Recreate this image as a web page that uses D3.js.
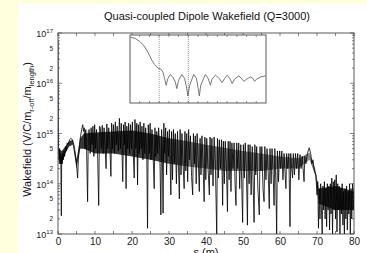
<!DOCTYPE html>
<html>
<head>
<meta charset="utf-8">
<script src="https://cdn.jsdelivr.net/npm/d3@7"></script>
<style>
  body { margin: 0; background: #ffffdd; }
  svg { display: block; font-family: "Liberation Sans", Arial, Helvetica, sans-serif; }
</style>
</head>
<body>
<svg id="chart" width="367" height="253"></svg>
<script>
(function(){

  // DATA ////////////////////////////////////////////////////////////////////

  var titleText = "Quasi-coupled Dipole Wakefield (Q=3000)";
  var xTicks = [0, 10, 20, 30, 40, 50, 60, 70, 80];
  var yDecades = [13, 14, 15, 16, 17];
  var yMidLabels = [2, 5];

  // wake [s (m), W], peaks and troughs in order
  var wakePts = [
    [0, 7e16], [0.08, 2e15], [0.15, 5e14], [0.3, 3e14], [0.45, 5e14], [0.6, 2.5e14], [0.75, 4e14],
    [0.9, 2.3e13], [1.0, 3.5e14], [1.15, 2.5e14], [1.3, 4e14], [1.45, 3e14], [1.6, 4.5e14], [1.8, 3.5e14],
    [2.0, 5.5e14], [2.2, 4.5e14], [2.5, 6.5e14], [2.8, 6e14], [3.1, 7.5e14], [3.5, 8e14], [3.9, 7.5e14],
    [4.3, 6e14], [4.7, 4e14], [5.0, 2.5e14], [5.3, 1.3e14], [5.5, 3e14], [5.8, 6e14], [6.1, 9e14],
    [6.4, 1.2e15], [6.7, 1.5e15], [6.9, 1.1e15], [7.1, 1.3e15], [7.3, 5e14], [7.5, 1.2e15], [7.7, 6e14],
    [8.0, 4.4e13], [8.2, 1.1e15], [8.45, 1.2e15], [8.7, 4e14], [8.95, 1.3e15], [9.2, 6e14], [9.45, 1.4e15],
    [9.7, 3.5e14], [9.9, 1.5e15], [10.15, 5e14], [10.4, 1.2e15], [10.7, 4e14], [11.0, 3.7e13], [11.2, 1.4e15],
    [11.45, 1.3e15], [11.7, 5e14], [11.95, 1.45e15], [12.2, 4e14], [12.45, 1.3e15], [12.75, 5e14], [13.0, 2e14],
    [13.2, 1.55e15], [13.45, 5e14], [13.7, 1.3e15], [14.0, 6e14], [14.3, 1.4e14], [14.5, 1.6e15], [14.75, 5e14],
    [15.0, 1.5e15], [15.25, 4e14], [15.5, 1.7e15], [15.75, 6e14], [16.0, 1.4e15], [16.3, 4.5e14], [16.6, 2e15],
    [16.85, 5e14], [17.1, 1.6e15], [17.5, 1.1e14], [17.7, 1.5e15], [17.95, 6e14], [18.15, 1.7e15], [18.4, 8e13],
    [18.6, 1.4e15], [18.85, 5e14], [19.1, 1.6e15], [19.35, 4e14], [19.6, 1.5e15], [19.85, 5e14], [20.1, 1.7e15],
    [20.35, 4e14], [20.6, 1.3e14], [20.8, 1.9e15], [21.05, 5e14], [21.3, 1.6e15], [21.5, 9.5e13], [21.7, 1.5e15],
    [21.95, 4e14], [22.2, 1.7e15], [22.45, 5e14], [22.7, 1.4e15], [22.95, 3e14], [23.2, 1.6e15], [23.45, 4e14],
    [23.7, 1.3e15], [24.0, 3.5e14], [24.2, 1.3e13], [24.4, 1.5e15], [24.65, 4e14], [24.9, 1.6e15], [25.15, 3e14],
    [25.4, 1.2e15], [25.7, 4e14], [26.0, 8e13], [26.2, 1.3e15], [26.45, 3.5e14], [26.7, 1.1e15], [26.95, 4e14],
    [27.2, 1.3e15], [27.5, 5e14], [27.8, 2.4e13], [28.0, 1.2e15], [28.2, 4e14], [28.4, 2.6e13], [28.6, 1.6e15],
    [28.85, 4e14], [29.1, 1.3e15], [29.35, 1.5e14], [29.6, 1.1e15], [29.85, 3.5e14], [30.1, 1.2e15], [30.5, 6e13],
    [30.7, 1.1e15], [30.95, 1.2e14], [31.2, 1.2e15], [31.45, 2.5e14], [31.7, 1e15], [32.0, 1e14], [32.3, 1.1e15],
    [32.55, 2.5e14], [32.8, 5e13], [33.0, 1.2e15], [33.25, 1.5e14], [33.5, 1e15], [33.8, 2.5e14], [34.1, 8e13],
    [34.3, 1.1e15], [34.55, 1.8e14], [34.8, 1e15], [35.05, 1.1e14], [35.3, 1.2e15], [35.55, 3e14], [35.8, 9e14],
    [36.1, 1.4e14], [36.4, 6e13], [36.6, 1e15], [36.85, 2.5e14], [37.1, 9e14], [37.35, 1e14], [37.6, 1e15],
    [37.9, 3e14], [38.2, 7e13], [38.4, 8e14], [38.65, 1.5e14], [38.9, 9e14], [39.2, 2.5e14], [39.5, 4.4e13],
    [39.7, 8.5e14], [39.95, 1.2e14], [40.2, 8e14], [40.5, 2.5e14], [40.9, 6e13], [41.1, 8.5e14], [41.35, 1.5e14],
    [41.6, 8e14], [41.9, 9e13], [42.2, 8.5e14], [42.5, 3e14], [42.9, 1e13], [43.1, 8e14], [43.35, 1.3e14],
    [43.6, 7.5e14], [43.9, 2e14], [44.2, 7.5e14], [44.5, 3.7e13], [44.7, 7e14], [44.95, 1e14], [45.2, 7e14],
    [45.5, 2.5e14], [45.8, 2.8e13], [46.0, 7e14], [46.25, 1.2e14], [46.5, 7e14], [46.75, 7e13], [47.0, 6.5e14],
    [47.3, 2e14], [47.6, 6.5e14], [47.85, 1e14], [48.1, 3.7e13], [48.3, 6.5e14], [48.6, 2e14], [48.85, 6.5e14],
    [49.1, 8e13], [49.4, 6e14], [49.9, 1.7e13], [50.1, 6e14], [50.35, 1.3e14], [50.6, 6.5e14], [50.9, 2e14],
    [51.2, 1.5e13], [51.4, 6e14], [51.65, 1e14], [51.9, 6e14], [52.2, 6e13], [52.5, 5.5e14], [53.0, 1.7e13],
    [53.2, 6e14], [53.45, 1.5e14], [53.7, 5.5e14], [54.0, 9e13], [54.4, 2.4e13], [54.6, 5.5e14], [54.85, 1.8e14],
    [55.1, 5.5e14], [55.4, 8e13], [55.7, 4.4e13], [55.9, 5.5e14], [56.2, 1.2e14], [56.5, 5e14], [56.8, 1.8e14],
    [57.1, 3.2e13], [57.3, 5e14], [57.6, 1e14], [57.85, 5e14], [58.1, 2e14], [58.4, 3.7e13], [58.6, 5e14],
    [58.85, 1.3e14], [59.1, 1e13], [59.3, 4.5e14], [59.6, 1.1e14], [59.9, 4.5e14], [60.2, 2e14], [60.5, 4.5e14],
    [60.8, 1.2e14], [61.1, 4e14], [61.6, 8e13], [61.8, 4e14], [62.1, 2e14], [62.4, 4e14], [62.7, 1.4e13],
    [62.9, 4e14], [63.15, 2e14], [63.4, 1.3e14], [63.6, 4e14], [63.9, 1.5e14], [64.2, 4e14], [64.5, 2e14],
    [64.8, 4e14], [65.1, 1.2e14], [65.4, 3.8e14], [65.7, 2e14], [66.0, 3.5e14], [66.5, 1.1e14], [66.7, 3.5e14],
    [67.0, 2.5e14], [67.4, 4e14], [67.9, 5.2e14], [68.3, 4e14], [68.6, 2.5e14], [68.9, 3e14], [69.3, 1.8e14],
    [69.7, 1.5e14], [70.0, 6e13], [70.2, 1.1e14], [70.4, 1.3e13], [70.6, 8e13], [70.8, 2e13], [71.0, 1e14],
    [71.2, 3e13], [71.4, 1e13], [71.6, 9e13], [71.8, 3e13], [72.0, 1.1e14], [72.2, 2e13], [72.4, 8e13],
    [72.6, 1.4e13], [72.8, 1e14], [73.0, 3e13], [73.2, 9e13], [73.4, 1.2e13], [73.6, 1e14], [73.8, 2.5e13],
    [74.0, 1.3e14], [74.2, 1e13], [74.4, 1.1e14], [74.6, 3e13], [74.8, 1.2e14], [75.0, 2e13], [75.2, 1.5e14],
    [75.4, 1.1e13], [75.6, 1e14], [75.8, 3e13], [76.0, 9e13], [76.2, 1e13], [76.4, 8e13], [76.6, 2.5e13],
    [76.8, 1e14], [77.0, 1.5e13], [77.2, 7e13], [77.4, 1e13], [77.6, 8e13], [77.8, 2e13], [78.0, 9e13],
    [78.2, 1.2e13], [78.4, 7e13], [78.6, 2.5e13], [78.8, 1e14], [79.0, 1e13], [79.2, 8e13], [79.4, 2e13],
    [79.6, 1e14], [79.8, 3e13], [80, 8e13]
  ];

  // dense band of fast oscillation (upper / lower edge)
  var bandS  = [0.2, 1, 2, 3, 4, 5, 6, 7, 10, 15, 20, 25, 30, 35, 40, 45, 50, 55, 60, 65, 68, 69.5, 70.5, 75, 80];
  var bandHi = [5e14, 4.5e14, 5.5e14, 7e14, 7.5e14, 3e14, 8e14, 1e15, 1.05e15, 1.1e15, 1.15e15, 1e15, 8e14,
                7e14, 6e14, 5.2e14, 4.5e14, 4e14, 3.5e14, 3.2e14, 4.2e14, 2e14, 8e13, 9e13, 7e13];
  var bandLo = [2.5e14, 2.5e14, 4e14, 5.5e14, 6e14, 2e14, 5e14, 5e14, 4e14, 4e14, 3.5e14, 3e14, 2.5e14,
                2.2e14, 2e14, 1.8e14, 1.8e14, 1.8e14, 2e14, 2e14, 3e14, 1.5e14, 4e13, 3e13, 3e13];

  // inset: first 7 m, normalised log amplitude
  var insetS = [0.035, 0.26, 0.52, 0.69, 0.86, 1.0, 1.12, 1.26, 1.38, 1.48, 1.59, 1.69, 1.78, 1.86, 1.95,
                2.07, 2.2, 2.33, 2.41, 2.5, 2.67, 2.81, 2.91, 2.98, 3.07, 3.28, 3.42, 3.51, 3.57, 3.64,
                3.88, 4.02, 4.14, 4.22, 4.4, 4.57, 4.74, 4.87, 5.0, 5.14, 5.26, 5.38, 5.6, 5.74, 5.86,
                6.0, 6.21, 6.33, 6.41, 6.52, 6.73, 6.99];
  var insetV = [0.966, 0.951, 0.901, 0.852, 0.778, 0.704, 0.631, 0.567, 0.532, 0.507, 0.498, 0.458, 0.36, 0.261, 0.36,
                0.419, 0.384, 0.31, 0.212, 0.335, 0.419, 0.36, 0.236, 0.103, 0.261, 0.419, 0.36, 0.212, 0.103, 0.261,
                0.419, 0.36, 0.261, 0.35, 0.409, 0.369, 0.3, 0.36, 0.409, 0.36, 0.286, 0.35, 0.399, 0.36, 0.32,
                0.35, 0.384, 0.36, 0.32, 0.35, 0.384, 0.399];
  var insetMarks = [1.5, 3.0];

  // LAYOUT //////////////////////////////////////////////////////////////////

  var width = 367, height = 253;
  var plot = { left: 58, top: 33, right: 354, bottom: 234 };
  var inset = { left: 130, top: 35, right: 266, bottom: 103 };
  var ink = "#333333";

  var svg = d3.select("svg#chart");

  svg.append("rect")
    .attr("x", 19).attr("y", 4)
    .attr("width", width - 19).attr("height", height - 4)
    .attr("fill", "#ffffff");

  var x = d3.scaleLinear().domain([0, 80]).range([plot.left, plot.right]);
  var y = d3.scaleLog().domain([1e13, 1e17]).range([plot.bottom, plot.top]);

  var defs = svg.append("defs");
  defs.append("clipPath").attr("id", "clip")
    .append("rect")
    .attr("x", plot.left).attr("y", plot.top)
    .attr("width", plot.right - plot.left).attr("height", plot.bottom - plot.top);

  // band is solid black early on, greyer where the trace thins out
  var grad = defs.append("linearGradient").attr("id", "bandFill")
    .attr("gradientUnits", "userSpaceOnUse")
    .attr("x1", x(0)).attr("x2", x(80)).attr("y1", 0).attr("y2", 0);
  [[0, 0.85], [28, 0.8], [36, 0.55], [68, 0.5], [71, 0.8], [80, 0.8]].forEach(function(st){
    grad.append("stop")
      .attr("offset", (st[0] / 80 * 100) + "%")
      .attr("stop-color", "#111")
      .attr("stop-opacity", st[1]);
  });

  // DATA MARKS //////////////////////////////////////////////////////////////

  var g = svg.append("g").attr("clip-path", "url(#clip)");

  var band = d3.area()
    .x(function(d, i){ return x(bandS[i]); })
    .y0(function(d, i){ return y(bandLo[i]); })
    .y1(function(d, i){ return y(bandHi[i]); });

  g.append("path")
    .datum(bandS)
    .attr("d", band)
    .attr("fill", "url(#bandFill)");

  var line = d3.line()
    .x(function(d){ return x(d[0]); })
    .y(function(d){ return y(Math.max(d[1], 1e12)); });

  g.append("path")
    .datum(wakePts)
    .attr("d", line)
    .attr("fill", "none")
    .attr("stroke", "#000000")
    .attr("stroke-width", 0.8)
    .attr("stroke-linejoin", "miter");

  // AXES ////////////////////////////////////////////////////////////////////

  svg.append("rect")
    .attr("x", plot.left).attr("y", plot.top)
    .attr("width", plot.right - plot.left).attr("height", plot.bottom - plot.top)
    .attr("fill", "none").attr("stroke", ink).attr("stroke-width", 0.8);

  var axisBottom = d3.axisBottom(x).tickValues(xTicks).tickSize(0).tickPadding(4);
  var gx = svg.append("g").attr("transform", "translate(0," + plot.bottom + ")").call(axisBottom);
  gx.select(".domain").remove();
  gx.selectAll("text").attr("font-size", 10).attr("fill", "#222").attr("font-family", null);

  // inward ticks every 5 m on top and bottom
  var xMinor = d3.range(0, 81, 5);
  svg.append("g").selectAll("line").data(xMinor).enter().append("line")
    .attr("x1", x).attr("x2", x)
    .attr("y1", plot.bottom).attr("y2", plot.bottom - 3)
    .attr("stroke", ink).attr("stroke-width", 0.6);
  svg.append("g").selectAll("line").data(xMinor).enter().append("line")
    .attr("x1", x).attr("x2", x)
    .attr("y1", plot.top).attr("y2", plot.top + 3)
    .attr("stroke", ink).attr("stroke-width", 0.6);

  // log ticks left and right
  var yTicks = [];
  yDecades.forEach(function(e){
    for (var m = 1; m < 10; m++) {
      if (e === 17 && m > 1) break;
      yTicks.push({ v: m * Math.pow(10, e), major: m === 1 });
    }
  });
  [plot.left, plot.right].forEach(function(x0){
    var dir = (x0 === plot.left) ? 1 : -1;
    svg.append("g").selectAll("line").data(yTicks).enter().append("line")
      .attr("x1", x0)
      .attr("x2", function(d){ return x0 + dir * (d.major ? 4 : 2); })
      .attr("y1", function(d){ return y(d.v); })
      .attr("y2", function(d){ return y(d.v); })
      .attr("stroke", ink).attr("stroke-width", 0.6);
  });

  var decadeLabels = svg.append("g").selectAll("text").data(yDecades).enter().append("text")
    .attr("x", plot.left - 5)
    .attr("y", function(d){ return y(Math.pow(10, d)) + 4; })
    .attr("text-anchor", "end")
    .attr("font-size", 9)
    .attr("fill", "#222");
  decadeLabels.append("tspan").text("10");
  decadeLabels.append("tspan").attr("font-size", 6).attr("dy", -4).text(function(d){ return d; });

  var midVals = [];
  yDecades.slice(0, -1).forEach(function(e){
    yMidLabels.forEach(function(m){ midVals.push({ m: m, v: m * Math.pow(10, e) }); });
  });
  svg.append("g").selectAll("text").data(midVals).enter().append("text")
    .attr("x", plot.left - 5)
    .attr("y", function(d){ return y(d.v) + 2.5; })
    .attr("text-anchor", "end")
    .attr("font-size", 6.5)
    .attr("fill", "#222")
    .text(function(d){ return d.m; });

  // TEXT ////////////////////////////////////////////////////////////////////

  svg.append("text")
    .attr("x", 207).attr("y", 20)
    .attr("text-anchor", "middle")
    .attr("font-size", 11)
    .attr("fill", "#111")
    .text(titleText);

  svg.append("text")
    .attr("x", 206).attr("y", 256)
    .attr("text-anchor", "middle")
    .attr("font-size", 11)
    .attr("fill", "#111")
    .text("s (m)");

  var ylab = svg.append("text")
    .attr("transform", "translate(31," + ((plot.top + plot.bottom) / 2 - 4) + ") rotate(-90)")
    .attr("text-anchor", "middle")
    .attr("font-size", 11)
    .attr("fill", "#111");
  ylab.append("tspan").text("Wakefield (V/C/m");
  ylab.append("tspan").attr("font-size", 7.5).attr("dy", 2.5).text("r-off");
  ylab.append("tspan").attr("dy", -2.5).text("/m");
  ylab.append("tspan").attr("font-size", 7.5).attr("dy", 2.5).text("length");
  ylab.append("tspan").attr("dy", -2.5).text(")");

  // INSET ///////////////////////////////////////////////////////////////////

  var ix = d3.scaleLinear().domain([0, 7]).range([inset.left, inset.right]);
  var iy = d3.scaleLinear().domain([0, 1]).range([inset.bottom, inset.top]);

  svg.append("rect")
    .attr("x", inset.left).attr("y", inset.top)
    .attr("width", inset.right - inset.left).attr("height", inset.bottom - inset.top)
    .attr("fill", "#ffffff").attr("stroke", ink).attr("stroke-width", 0.8);

  var insetTicks = d3.range(0.5, 7, 0.5);
  [inset.top, inset.bottom].forEach(function(y0){
    var dir = (y0 === inset.top) ? 1 : -1;
    svg.append("g").selectAll("line").data(insetTicks).enter().append("line")
      .attr("x1", ix).attr("x2", ix)
      .attr("y1", y0).attr("y2", y0 + dir * 2)
      .attr("stroke", ink).attr("stroke-width", 0.5);
  });

  svg.append("g").selectAll("line").data(insetMarks).enter().append("line")
    .attr("x1", ix).attr("x2", ix)
    .attr("y1", inset.top).attr("y2", inset.bottom)
    .attr("stroke", "#444").attr("stroke-width", 0.6)
    .attr("stroke-dasharray", "1,1");

  var insetLine = d3.line()
    .x(function(d, i){ return ix(insetS[i]); })
    .y(function(d, i){ return iy(insetV[i]); });

  svg.append("path")
    .datum(insetS)
    .attr("d", insetLine)
    .attr("fill", "none")
    .attr("stroke", "#555")
    .attr("stroke-width", 0.8);

})();
</script>
</body>
</html>
